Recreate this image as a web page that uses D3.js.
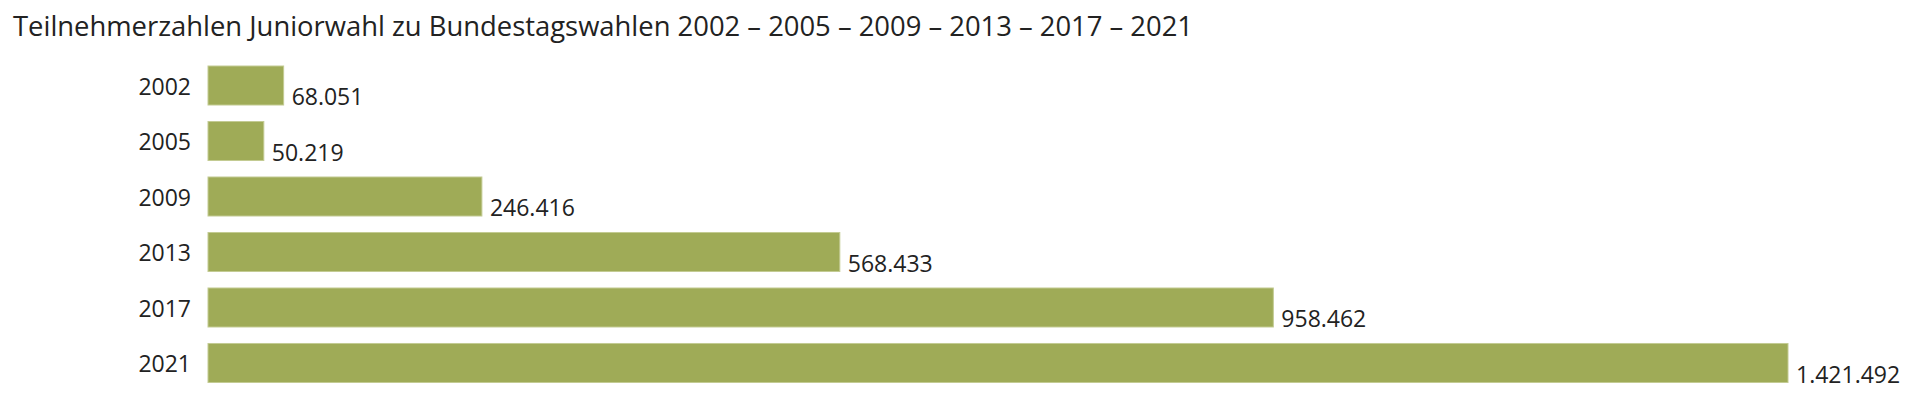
<!DOCTYPE html>
<html>
<head>
<meta charset="utf-8">
<script src="https://cdn.jsdelivr.net/npm/d3@7"></script>
<style>
  html, body { margin: 0; padding: 0; background: #fff; }
  svg { display: block; }
  text { font-family: "Open Sans", "Noto Sans", sans-serif; fill: #222; }
</style>
</head>
<body>
<svg id="chart" width="1920" height="396"></svg>
<script>
const titleText = "Teilnehmerzahlen Juniorwahl zu Bundestagswahlen 2002 – 2005 – 2009 – 2013 – 2017 – 2021";
const years = ["2002", "2005", "2009", "2013", "2017", "2021"];
const participants = [68051, 50219, 246416, 568433, 958462, 1421492];
const valueLabels = ["68.051", "50.219", "246.416", "568.433", "958.462", "1.421.492"];

const svg = d3.select("#chart");
const data = years.map((y, i) => ({ year: y, value: participants[i], label: valueLabels[i] }));

const x = d3.scaleLinear().domain([0, d3.max(participants)]).range([208, 1788]);
const y = d3.scaleBand().domain(years).range([66, 382.5]).paddingInner(0.297).paddingOuter(0);

svg.append("text")
  .attr("x", 13).attr("y", 36)
  .attr("font-size", 28)
  .attr("textLength", 1180)
  .attr("lengthAdjust", "spacingAndGlyphs")
  .text(titleText);

svg.append("g").selectAll("rect").data(data).join("rect")
  .attr("x", x(0))
  .attr("y", d => y(d.year))
  .attr("width", d => x(d.value) - x(0))
  .attr("height", y.bandwidth())
  .attr("fill", "#9fab57")
  .attr("stroke", "#c3cb93")
  .attr("stroke-width", 1);

const axis = svg.append("g")
  .attr("transform", `translate(${x(0)},2)`)
  .call(d3.axisLeft(y).tickSize(0).tickPadding(17));
axis.select(".domain").remove();
axis.selectAll("text")
  .attr("font-size", 23)
  .attr("font-family", "'Open Sans', sans-serif")
  .attr("fill", "#222");

svg.append("g").selectAll("text").data(data).join("text")
  .attr("x", d => x(d.value) + 8)
  .attr("y", d => y(d.year) + y.bandwidth())
  .attr("font-size", 23)
  .text(d => d.label);
</script>
</body>
</html>
